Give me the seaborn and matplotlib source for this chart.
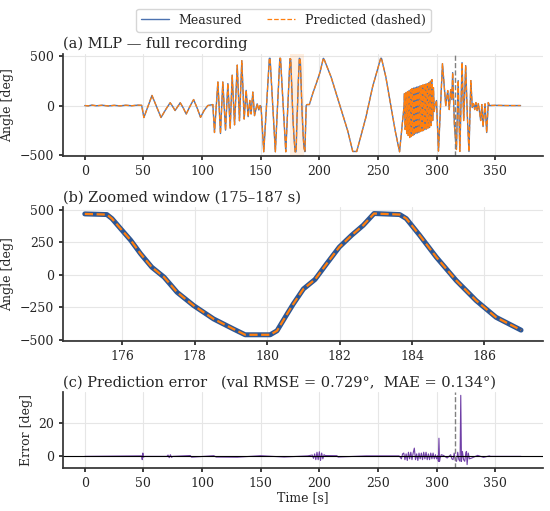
import numpy as np
import pandas as pd
import matplotlib
matplotlib.use("Agg")
import matplotlib.pyplot as plt
import seaborn as sns

# full recording: angle vertices
full_t = [0, 3, 6, 10, 15, 20, 25, 30, 35, 40, 45, 48.5,
          50.4, 53.8, 57.3, 61, 65, 69, 72.8, 75, 77, 79.2, 81.4, 84, 86.5, 89.6,
          92.8, 95.8, 98.7, 101.7, 104.9, 109.2,
          110.6, 113.5, 115.7, 117.7, 120.0, 122.0, 124.0, 125.7, 127.7, 130.0,
          131.9, 133.9, 135.9, 137.6, 139.3, 140.7, 141.8, 143.3, 144.7, 147.0,
          148.4, 149.5, 150.3,
          152.6, 157.4, 158.0, 162.5, 166.3, 166.9, 171.4,
          174.96, 175.57, 175.71, 175.95, 176.23, 176.5, 176.81, 177.15, 177.51,
          177.97, 178.52, 179.07, 179.39, 180.08, 180.27, 180.55, 180.72, 181.0,
          181.32, 181.64, 181.99, 182.33, 182.65, 182.95, 183.66, 183.84, 184.21,
          184.67, 185.22, 185.77, 186.32, 187.01,
          187.7, 188.8, 189.5, 191.5, 194.5, 197.5, 200.5, 203.4, 204.0, 210.0,
          217.1, 224.2, 228.5, 231.9, 239.7, 245.4, 252.3, 253.0, 256.7, 261.0,
          264.7, 268.4, 272.3,
          272.6, 273.2, 273.9, 274.5, 275.2, 275.8, 276.5, 277.1, 277.8, 278.4,
          279.1, 279.7, 280.4, 281.0, 281.7, 282.3, 283.0, 283.6, 284.3, 284.9,
          285.6, 286.2, 286.9, 287.5, 288.2, 288.8, 289.5, 290.1, 290.8, 291.4,
          292.1, 292.7, 293.4, 294.0, 294.7, 295.3, 296.0, 296.6, 297.3, 298.0,
          298.6, 299.9,
          301.6, 305.0, 307.8, 309.5, 310.8, 312.0, 313.0, 313.7, 315.2, 316.9,
          318.4, 319.8, 321.7, 323.1, 324.8, 326.2, 327.6, 329.2, 330.4, 331.5,
          332.5, 333.5, 334.6, 335.6, 336.6, 337.6, 338.6, 339.6, 341.3, 342.7,
          344.1, 345.0, 350, 360, 371.6]
full_v = [0, -3, 4, -2, 3, -4, 2, -3, 3, -2, 4, 2,
          -120, -10, 101, -5, -120, -40, 28, -10, -50, -10, 28, -25, -85, -10,
          60, -25, -118, -50, 0, 10,
          -270, 236, -280, 236, -246, 220, -226, 304, -193, 405,
          -152, 449, -135, 152, -111, 51, -84, 135, -101, 17,
          -44, 0, -10,
          -463, 473, 473, -463, 473, 473, -463,
          470, 465, 434, 356, 266, 163, 59, -18, -135,
          -238, -341, -419, -463, -463, -432, -302, -225, -109,
          -36, 85, 214, 305, 382, 473, 465, 434, 305,
          136, -44, -199, -328, -427,
          -462, 0, 10, 10, 125, 225, 330, 473, 465, 287,
          17, -253, -460, -460, -118, 186, 473, 473, 287, 0,
          -253, -463, 0,
          120, -240, 130, -280, 140, -300, 150, -320, 160, -310,
          170, -300, 175, -290, 180, -280, 185, -275, 190, -270,
          195, -260, 200, -255, 205, -250, 210, -240, 215, -235,
          220, -225, 230, -220, 245, -200, 260, -150, 180, -60,
          0, 50,
          -456, 420, 0, 150, -40, 160, 60, 330, -200, -440,
          250, -460, 430, -150, 400, -100, -460, 250, -20, 20,
          -40, 30, -50, 20, -60, -150, 10, -210, 17, -270,
          30, 0, 2, 0, 0]

# zoomed window 175-187 s, panel (b)
zoom_t = [174.96, 175.57, 175.71, 175.95, 176.23, 176.5, 176.81, 177.15, 177.51,
          177.97, 178.52, 179.07, 179.39, 180.08, 180.27, 180.55, 180.72, 181.0,
          181.32, 181.64, 181.99, 182.33, 182.65, 182.95, 183.66, 183.84, 184.21,
          184.67, 185.22, 185.77, 186.32, 187.01]
zoom_v = [470, 465, 434, 356, 266, 163, 59, -18, -135,
          -238, -341, -419, -463, -463, -432, -302, -225, -109,
          -36, 85, 214, 305, 382, 473, 465, 434, 305,
          136, -44, -199, -328, -427]

# prediction error, panel (c)
err_t = [0, 48.5, 49, 49.5, 50, 51, 70, 71, 72, 73, 74, 75, 90, 91, 110, 112, 130,
         150, 170, 190, 194, 195, 196, 197, 198, 199, 200, 201, 202, 203, 204, 205,
         215, 216, 240, 268, 270, 271, 272, 273, 274, 275, 276, 277, 278, 279, 280,
         281, 282, 283, 284, 285, 286, 287, 288, 289, 290, 291, 292, 293, 294, 295,
         296, 297, 298, 299, 300, 301, 301.5, 302, 302.5, 303, 304, 306, 309, 312,
         313, 314, 315, 316, 317, 318, 319, 320, 320.6, 321.2, 322, 323, 324, 325,
         325.5, 326, 327, 328, 330, 335, 340, 345, 346, 372]
err_v = [0, 0.3, -2, 2, -0.5, 0, 0, 0.8, -0.8, 1, -0.6, 0, 0.5, -0.5, 0.4, -0.4, -0.5,
         0.4, -0.4, 0.3, 0.8, -1.2, 1.5, -2, 2.5, -2, 2.8, -2.5, 2, -1.5, 1, 0.5,
         0.4, -0.4, 0.3, 0.3, -1.5, 1.5, 2, -2, 1.5, -2.5, 2.5, -1.5, 2.5, -2, 2,
         5, -2, 1.5, -2.5, 2, -1.5, 2, -2, 2.5, -1.5, 2.5, -2, 1.5, -2, 2,
         -1.5, 2, -1.5, 1, -1.5, 0.5, -3, 11, -3, -1, 1, 0.5, -1, 1,
         -1.5, -2, 2, -2.5, -3, 2.5, -2, -3, 37, -3, 3, -2, -3, 2.5,
         3, -5, 2, -1.5, -1, 0.6, -0.6, 0.3, 0, 0]

zoom_win = (175, 187)
val_start = 315.5

sns.set_theme(style="ticks")
plt.rcParams['font.family'] = ['DejaVu Serif']
plt.rcParams['axes.edgecolor'] = '#333333'

c_meas = '#4c72b0'
c_pred = '#ff7f0e'
c_err = '#6f3fa6'

fig = plt.figure(figsize=(5.5, 5.11), dpi=100)
gs = fig.add_gridspec(3, 1, height_ratios=[102.5, 133, 76], hspace=0.49,
                      left=0.1145, right=0.987, top=0.895, bottom=0.084)
ax1 = fig.add_subplot(gs[0])
ax2 = fig.add_subplot(gs[1])
ax3 = fig.add_subplot(gs[2], sharex=ax1)

# (a) full recording
ax1.axvspan(*zoom_win, color=c_pred, alpha=0.12, lw=0)
sns.lineplot(x=full_t, y=full_v, ax=ax1, color=c_meas, lw=1.0, label='Measured')
sns.lineplot(x=full_t, y=full_v, ax=ax1, color=c_pred, lw=0.9, ls='--',
             label='Predicted (dashed)')
ax1.axvline(val_start, color='gray', ls='--', lw=1)
ax1.set_title('(a) MLP — full recording', loc='left', fontsize=10.5, pad=4)
ax1.set_ylabel('Angle [deg]', fontsize=9)
ax1.set_yticks([-500, 0, 500])

# (b) zoomed window
sns.lineplot(x=zoom_t, y=zoom_v, ax=ax2, color='#2c5694', lw=3.6)
sns.lineplot(x=zoom_t, y=zoom_v, ax=ax2, color=c_pred, lw=1.6, ls='--')
ax2.set_title('(b) Zoomed window (175–187 s)', loc='left', fontsize=10.5, pad=4)
ax2.set_ylabel('Angle [deg]', fontsize=9)
ax2.set_yticks([-500, -250, 0, 250, 500])
ax2.set_xticks([176, 178, 180, 182, 184, 186])

# (c) error
sns.lineplot(x=err_t, y=err_v, ax=ax3, color=c_err, lw=0.8)
ax3.axhline(0, color='black', lw=0.8)
ax3.axvline(val_start, color='gray', ls='--', lw=1)
ax3.set_title('(c) Prediction error   (val RMSE = 0.729°,  MAE = 0.134°)',
              loc='left', fontsize=10.5, pad=4)
ax3.set_ylabel('Error [deg]', fontsize=9)
ax3.set_xlabel('Time [s]', fontsize=9, labelpad=1)
ax3.set_yticks([0, 20])

for ax in (ax1, ax2, ax3):
    ax.grid(True, color='#e6e6e6', lw=0.8)
    ax.set_axisbelow(True)
    ax.tick_params(labelsize=9, length=3)
    sns.despine(ax=ax)
ax1.set_xticks([0, 50, 100, 150, 200, 250, 300, 350])

handles, labels = ax1.get_legend_handles_labels()
ax1.get_legend().remove()
fig.legend(handles, labels, loc='upper center', ncol=2, fontsize=9,
           bbox_to_anchor=(0.515, 0.995), frameon=True, handlelength=2.2,
           columnspacing=2.0)

plt.savefig('out.png', dpi=100)
